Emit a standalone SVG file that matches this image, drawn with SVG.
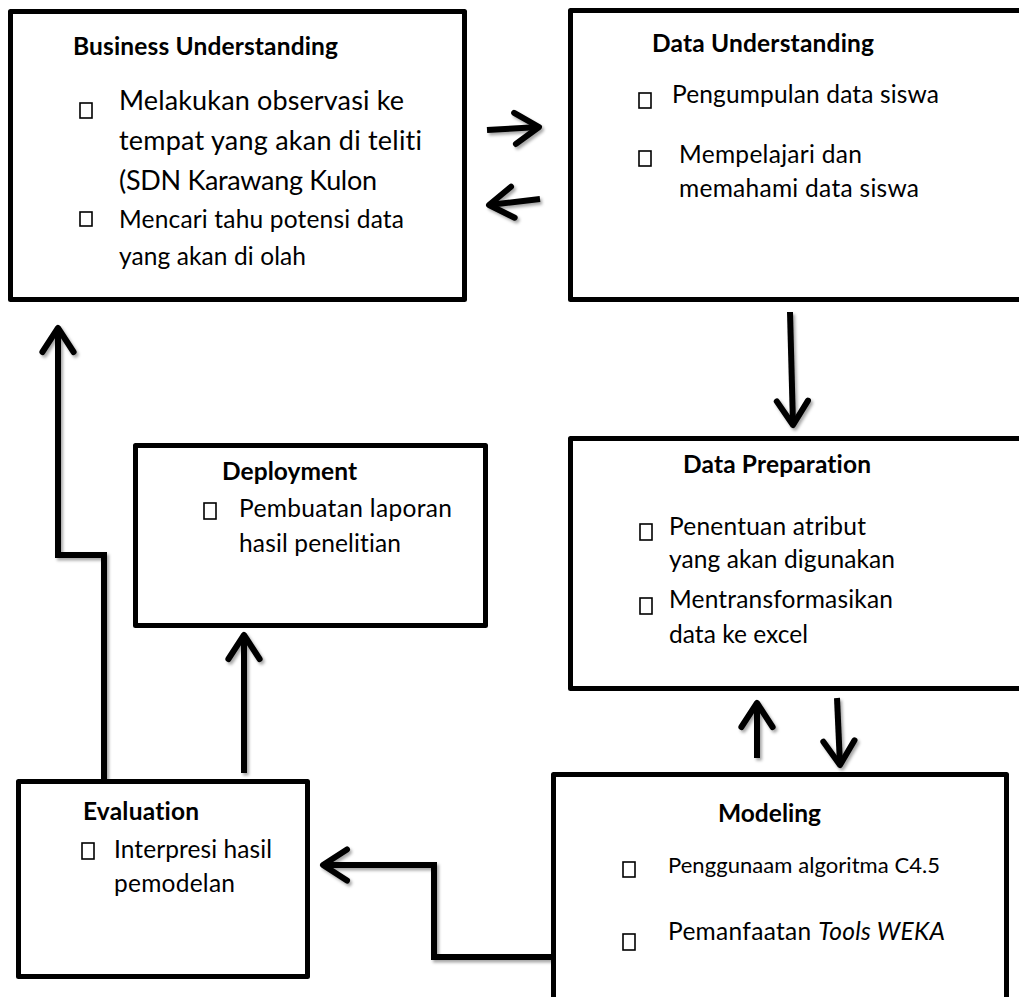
<svg xmlns="http://www.w3.org/2000/svg" width="1019" height="997" viewBox="0 0 1019 997">
  <style>
    .box { fill: #fff; stroke: #000; stroke-width: 5; stroke-linejoin: round; }
    .t { font-family: Lato, "Open Sans", "Liberation Sans", sans-serif; fill: #000; font-size: 24.5px; font-variant-ligatures: none; font-feature-settings: "liga" 0, "clig" 0, "dlig" 0; }
    .h { font-weight: bold; }
    .big { font-size: 27px; }
    .sm { font-size: 22px; }
    .bul { fill: none; stroke: #000; stroke-width: 1.6; }
    .con { fill: none; stroke: #000; stroke-width: 6; stroke-linejoin: miter; marker-end: url(#arr); }
  </style>
  <defs>
    <marker id="arr" markerUnits="strokeWidth" markerWidth="6" markerHeight="6" refX="0" refY="0" orient="auto" overflow="visible">
      <path d="M-4,-2.6 L0,0 L-4,2.6" fill="none" stroke="#000" stroke-width="1" stroke-linecap="round" stroke-linejoin="round"/>
    </marker>
    <filter id="sh" x="-20%" y="-20%" width="140%" height="140%">
      <feDropShadow dx="2" dy="2.5" stdDeviation="1.5" flood-color="#000" flood-opacity="0.35"/>
    </filter>
  </defs>
  <rect width="1019" height="997" fill="#fff"/>

  <g id="connectors" filter="url(#sh)">
    <path class="con" d="M487,130 L539,127"/>
    <path class="con" d="M540,199 L489,205"/>
    <path class="con" d="M790,312 L793,425"/>
    <path class="con" d="M837,698 L840,765"/>
    <path class="con" d="M757,758 L757,703"/>
    <path class="con" d="M553,957 L434,957 L434,865 L323,865"/>
    <path class="con" d="M244,773 L244,635"/>
    <path class="con" d="M104,783 L104,555 L58,555 L58,328"/>
  </g>

  <g id="business-understanding">
    <rect class="box" x="10.5" y="11.5" width="454" height="288"/>
    <text class="t h" x="73" y="55" textLength="265">Business Understanding</text>
    <rect class="bul" x="80" y="103" width="12" height="15"/>
    <text class="t big" x="119" y="110" textLength="285">Melakukan observasi ke</text>
    <text class="t big" x="119" y="150" textLength="303">tempat yang akan di teliti</text>
    <text class="t big" x="119" y="190" textLength="258">(SDN Karawang Kulon</text>
    <rect class="bul" x="80" y="212" width="12" height="14"/>
    <text class="t" x="119" y="228" textLength="285">Mencari tahu potensi data</text>
    <text class="t" x="119" y="265" textLength="187">yang akan di olah</text>
  </g>

  <g id="data-understanding">
    <rect class="box" x="570.5" y="10.5" width="470" height="289"/>
    <text class="t h" x="652" y="52" textLength="222">Data Understanding</text>
    <rect class="bul" x="639" y="93" width="12" height="15"/>
    <text class="t" x="672" y="103" textLength="267">Pengumpulan data siswa</text>
    <rect class="bul" x="639" y="151" width="12" height="15"/>
    <text class="t" x="679" y="163" textLength="183">Mempelajari dan</text>
    <text class="t" x="679" y="197" textLength="240">memahami data siswa</text>
  </g>

  <g id="data-preparation">
    <rect class="box" x="570.5" y="438.5" width="470" height="250"/>
    <text class="t h" x="683" y="473" textLength="188">Data Preparation</text>
    <rect class="bul" x="640" y="524" width="12" height="16"/>
    <text class="t" x="669" y="535" textLength="197">Penentuan atribut</text>
    <text class="t" x="669" y="568" textLength="226">yang akan digunakan</text>
    <rect class="bul" x="640" y="598" width="12" height="16"/>
    <text class="t" x="669" y="608" textLength="224">Mentransformasikan</text>
    <text class="t" x="669" y="643" textLength="139">data ke excel</text>
  </g>

  <g id="deployment">
    <rect class="box" x="135.5" y="445.5" width="350" height="180"/>
    <text class="t h" x="222" y="480" textLength="135">Deployment</text>
    <rect class="bul" x="204" y="503" width="12" height="16"/>
    <text class="t" x="239" y="517" textLength="213">Pembuatan laporan</text>
    <text class="t" x="239" y="552" textLength="162">hasil penelitian</text>
  </g>

  <g id="evaluation">
    <rect class="box" x="18.5" y="781.5" width="289" height="195"/>
    <text class="t h" x="83" y="820" textLength="116">Evaluation</text>
    <rect class="bul" x="82" y="843" width="12" height="16"/>
    <text class="t" x="114" y="858" textLength="158">Interpresi hasil</text>
    <text class="t" x="114" y="892" textLength="121">pemodelan</text>
  </g>

  <g id="modeling">
    <rect class="box" x="553.5" y="774.5" width="453" height="240"/>
    <text class="t h" x="718" y="822" textLength="103">Modeling</text>
    <rect class="bul" x="623" y="862" width="12" height="15"/>
    <text class="t sm" x="668" y="873" textLength="272">Penggunaam algoritma C4.5</text>
    <rect class="bul" x="623" y="934" width="12" height="16"/>
    <text class="t" x="668" y="940" textLength="277">Pemanfaatan <tspan font-style="italic">Tools WEKA</tspan></text>
  </g>
</svg>
